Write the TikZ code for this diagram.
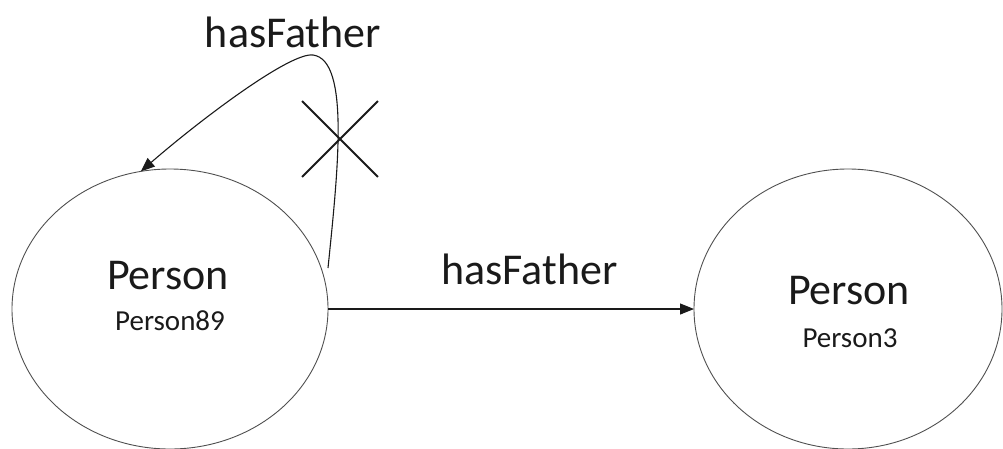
\documentclass[tikz,border=0pt]{standalone}
\usepackage{fontspec}
\setmainfont{Carlito}
\usepackage{xcolor}
\usepackage{tikz}
\usetikzlibrary{arrows.meta,shapes.geometric,shapes.misc}
\definecolor{ink}{HTML}{1A1A1A}
\definecolor{rim}{HTML}{505050}
\tikzset{
  cls/.style={draw=rim, ellipse, line width=0.9pt, inner sep=0pt, outer sep=0pt},
  rel/.style={draw=ink, line width=1.1pt, -{Triangle[length=14pt,width=11pt]}},
  lab/.style={text=ink, font=\fontsize{44}{50}\selectfont, inner sep=0pt},
  labs/.style={text=ink, font=\fontsize{29}{34}\selectfont, inner sep=0pt},
  cut/.style={draw=ink, cross out, line width=1.8pt, minimum size=74pt, inner sep=0pt},
}

\begin{document}
\begin{tikzpicture}[x=1pt,y=-1pt]
  \useasboundingbox (0,0) rectangle (1003,448);
  % the two individuals
  \node[cls, minimum width=316pt, minimum height=280pt] (p89) at (170,309) {};
  \node[cls, minimum width=308pt, minimum height=280pt] (p3) at (848,309) {};
  \node[lab] (p89c) at (168,276) {Person};
  \node[labs] (p89n) at (170,321) {Person89};
  \node[lab] (p3c) at (849,291) {Person};
  \node[labs] (p3n) at (850,338) {Person3};
  % valid link
  \draw[rel] (p89.east) -- node[lab, pos=0.55, above=24pt] (hf) {hasFather} (p3.west);
  % self link, struck out
  \coordinate (loopstart) at (328,268);
  \draw[rel] (loopstart) .. controls (338,170) and (350,60) .. (313,55)
    .. controls (290,52) and (200,120) .. (p89.102);
  \node[lab] (hfself) at (293,32) {hasFather};
  \node[cut] (nope) at (340,139) {};
\end{tikzpicture}
\end{document}
